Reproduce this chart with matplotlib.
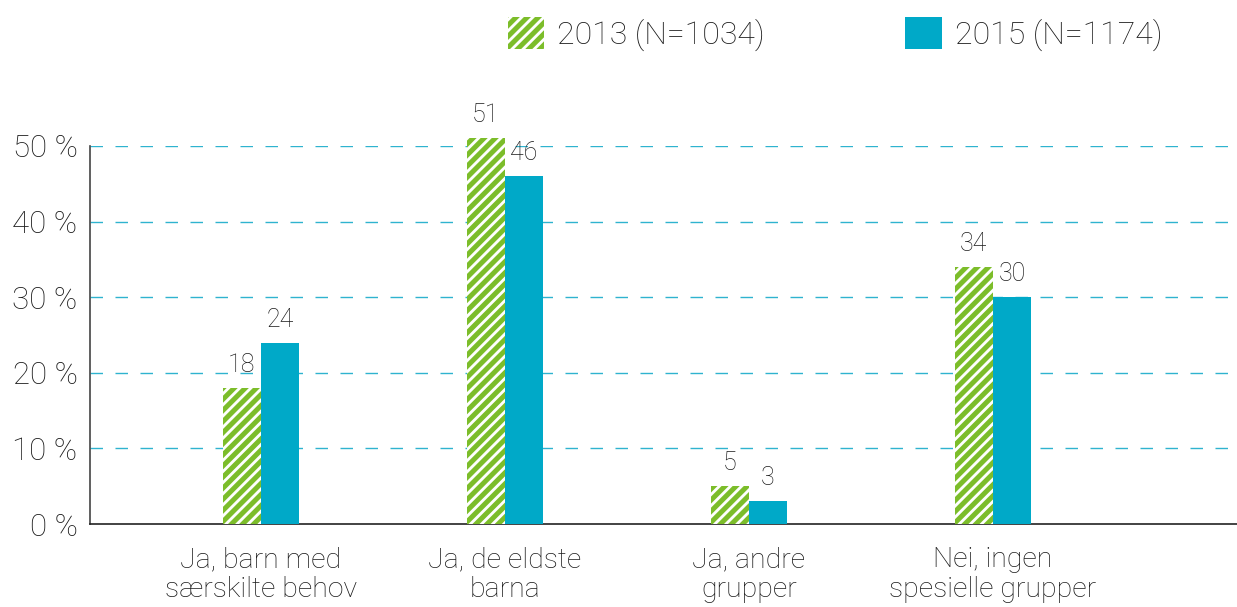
"""Share of kindergartens prioritising groups, 2013 vs 2015."""

import matplotlib

matplotlib.use("Agg")
import matplotlib.pyplot as plt
import numpy as np
from matplotlib.ticker import FuncFormatter

categories = [
    "Ja, barn med\nsærskilte behov",
    "Ja, de eldste\nbarna",
    "Ja, andre\ngrupper",
    "Nei, ingen\nspesielle grupper",
]
series_labels = ["2013 (N=1034)", "2015 (N=1174)"]
values_2013 = [18, 51, 5, 34]
values_2015 = [24, 46, 3, 30]
y_ticks = [0, 10, 20, 30, 40, 50]

GREEN = "#7cbd2a"
BLUE = "#00a9c8"
GRID = "#2fb3cf"
TEXT = "#1a1a1a"

plt.rcParams["font.family"] = ["Roboto", "DejaVu Sans"]
plt.rcParams["font.weight"] = "light"
plt.rcParams["hatch.linewidth"] = 3.6
plt.rcParams["hatch.color"] = GREEN

fig = plt.figure(figsize=(12.37, 6.07), dpi=100)
ax = fig.add_axes([0.0728, 0.1367, 0.9272, 0.6228])

x = np.arange(len(categories))
width = 0.156

bars_2013 = ax.bar(
    x - width / 2,
    values_2013,
    width,
    facecolor="white",
    edgecolor=GREEN,
    hatch="///",
    linewidth=0,
    label=series_labels[0],
    clip_on=False,
    zorder=3,
)
bars_2015 = ax.bar(
    x + width / 2,
    values_2015,
    width,
    color=BLUE,
    linewidth=0,
    label=series_labels[1],
    clip_on=False,
    zorder=3,
)

for bars, vals in ((bars_2013, values_2013), (bars_2015, values_2015)):
    for bar, val in zip(bars, vals):
        ax.annotate(
            f"{val}",
            (bar.get_x() + bar.get_width() / 2, bar.get_height()),
            xytext=(0, 11.5),
            textcoords="offset points",
            ha="center",
            va="baseline",
            fontsize=18,
            color=TEXT,
            annotation_clip=False,
            zorder=4,
        )

ax.set_xlim(-0.7, 4.0)
ax.set_ylim(0, 50)
ax.set_yticks(y_ticks)
ax.yaxis.set_major_formatter(FuncFormatter(lambda v, _: f"{int(v)} %"))
ax.set_xticks(x)
ax.set_xticklabels(categories, fontsize=20.5, linespacing=1.15)
ax.tick_params(axis="y", length=0, pad=9, labelsize=22.5, labelcolor=TEXT)
ax.tick_params(axis="x", length=0, pad=16, labelcolor=TEXT)

for val in y_ticks[1:]:
    ax.axhline(val, color=GRID, linewidth=1.0, dashes=(9, 9), zorder=1)

for side in ("top", "right"):
    ax.spines[side].set_visible(False)
ax.spines["left"].set_color("#444444")
ax.spines["left"].set_linewidth(1.2)
ax.spines["bottom"].set_color("#222222")
ax.spines["bottom"].set_linewidth(1.2)

fig.legend(
    handles=[bars_2013, bars_2015],
    labels=series_labels,
    loc="center",
    bbox_to_anchor=(0.675, 0.944),
    ncol=2,
    frameon=False,
    fontsize=23,
    labelcolor=TEXT,
    handlelength=1.15,
    handleheight=1.15,
    handletextpad=0.4,
    columnspacing=4.4,
)

fig.savefig("out.png", dpi=100)
